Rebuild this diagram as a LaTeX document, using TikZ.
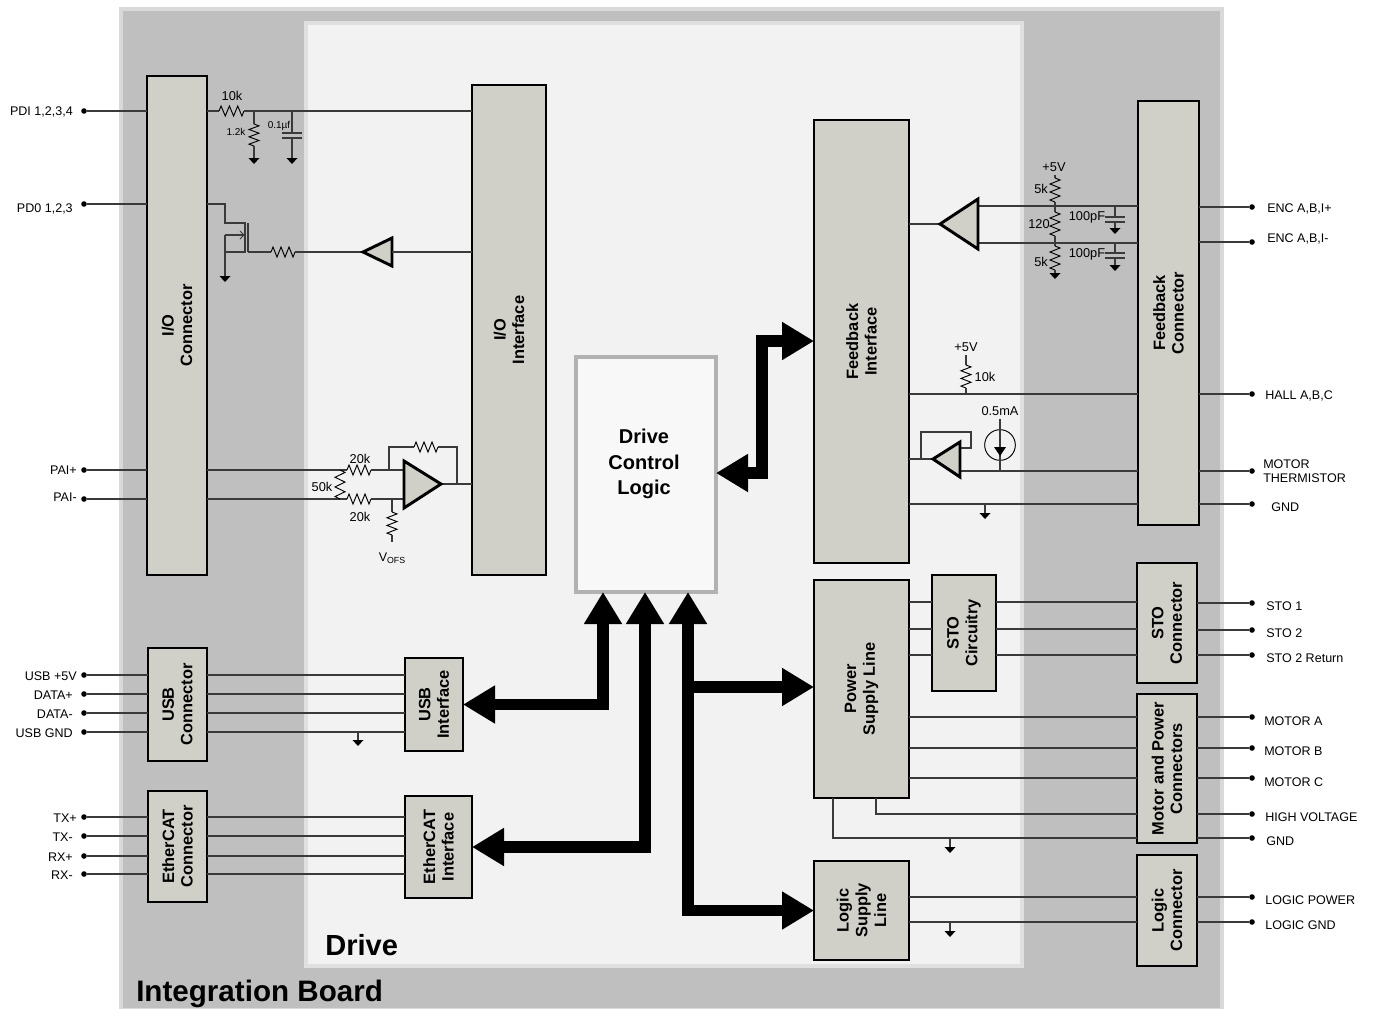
\documentclass[tikz,border=0pt]{standalone}
\usepackage{fontspec}
\setmainfont{Liberation Sans}
\usetikzlibrary{arrows.meta,calc}
\definecolor{boardfill}{HTML}{BFBFBF}
\definecolor{boardedge}{HTML}{D9D9D9}
\definecolor{drivefill}{HTML}{F2F2F2}
\definecolor{driveedge}{HTML}{E0E0E0}
\definecolor{blockfill}{HTML}{D0D0C8}
\definecolor{wirecol}{HTML}{3A3A3A}
\definecolor{logicedge}{HTML}{B2B2B2}
\tikzset{
  x=0.75pt,y=-0.75pt,
  wire/.style={draw=wirecol,line width=0.9pt},
  zig/.style={draw=black,line width=0.7pt,line join=miter},
  blockbox/.style={draw=black,line width=2.2pt,fill=blockfill,inner sep=0pt,outer sep=0pt},
  blocktext/.style={rotate=90,align=center,font=\bfseries\fontsize{12.3}{14}\selectfont,inner sep=0pt},
  lab/.style={font=\fontsize{9.4}{10.4}\selectfont,inner sep=0pt},
  small/.style={font=\fontsize{9.6}{11}\selectfont,inner sep=0pt},
  tiny/.style={font=\fontsize{7.5}{9}\selectfont,inner sep=0pt},
  term/.style={circle,fill=black,inner sep=0pt,minimum size=4.2pt},
  amp/.style={draw=black,line width=2.2pt,fill=blockfill,line join=miter},
  bigarrow/.style={draw=black,line width=8.6pt,line join=miter},
  bigtip/.style={-{Triangle[length=24pt,width=27pt]}},
  bigtips/.style={{Triangle[length=24pt,width=27pt]}-{Triangle[length=24pt,width=27pt]}},
}
% name x1 y1 x2 y2 text
\newcommand{\blk}[6]{%
  \pgfmathsetmacro{\bw}{(#4-#2)*0.75}\pgfmathsetmacro{\bh}{(#5-#3)*0.75}%
  \node[blockbox,minimum width=\bw pt,minimum height=\bh pt] (#1) at ({(#2+#4)/2},{(#3+#5)/2}) {};
  \node[blocktext] (#1-t) at (#1.center) {#6};}
% horizontal resistor: x1 x2 y ; vertical resistor: x y1 y2
\newcommand{\hres}[3]{\pgfmathsetmacro{\st}{(#2-#1)/6}%
  \draw[zig] (#1,#3) -- ++(0.5*\st,-5) -- ++(\st,10) -- ++(\st,-10) -- ++(\st,10) -- ++(\st,-10) -- ++(\st,10) -- (#2,#3);}
\newcommand{\vres}[3]{\pgfmathsetmacro{\st}{(#3-#2)/6}%
  \draw[zig] (#1,#2) -- ++(5,0.5*\st) -- ++(-10,\st) -- ++(10,\st) -- ++(-10,\st) -- ++(10,\st) -- ++(-10,\st) -- (#1,#3);}
% ground: x y1 y2 (line from y1 to y2, triangle below y2)
\newcommand{\gnd}[3]{\draw[wire] (#1,#2) -- (#1,#3);
  \fill[black] (#1-5.5,#3) -- (#1+5.5,#3) -- (#1,#3+6) -- cycle;}
\newcommand{\capv}[4]{% x y1 platetop ygnd
  \draw[wire] (#1,#2) -- (#1,#3);
  \draw[wire] (#1-10,#3) -- (#1+10,#3);
  \draw[wire] (#1-10,#3+5) -- (#1+10,#3+5);
  \gnd{#1}{#3+5}{#4}}
\begin{document}
\begin{tikzpicture}
\useasboundingbox (0,0) rectangle (1378,1008);
\fill[white] (0,0) rectangle (1378,1008);
\draw[draw=boardedge,line width=3pt,fill=boardfill] (121,9) rectangle (1222,1010);
\draw[draw=driveedge,line width=3.2pt,fill=drivefill] (306,23) rectangle (1022,966);
\node[inner sep=0pt,anchor=base west,font=\bfseries\fontsize{22.2}{24}\selectfont] (boardlab) at (136,1001) {Integration Board};
\node[inner sep=0pt,anchor=base west,font=\bfseries\fontsize{21.8}{24}\selectfont] (drivelab) at (325,955) {Drive};

% blocks
\blk{ioc}{147}{76}{207}{575}{I/O\\Connector}
\blk{ioi}{472}{85}{546}{575}{I/O\\Interface}
\blk{fbi}{814}{120}{909}{563}{Feedback\\Interface}
\blk{fbc}{1138}{101}{1199}{525}{Feedback\\Connector}
\blk{usbc}{148}{648}{207}{761}{USB\\Connector}
\blk{usbi}{405}{658}{463}{751}{USB\\Interface}
\blk{ethc}{148}{791}{207}{902}{EtherCAT\\Connector}
\blk{ethi}{405}{796}{472}{898}{EtherCAT\\Interface}
\blk{psl}{814}{580}{909}{798}{Power\\Supply Line}
\blk{stoc}{932}{575}{996}{691}{STO\\Circuitry}
\blk{stoh}{1137}{563}{1197}{683}{STO\\Connector}
\blk{mpc}{1137}{694}{1197}{843}{Motor and Power\\Connectors}
\blk{lsl}{814}{861}{909}{960}{Logic\\Supply\\Line}
\blk{lgc}{1137}{855}{1197}{966}{Logic\\Connector}
\node[draw=logicedge,line width=2.6pt,fill=white!50!drivefill,minimum width=105pt,minimum height=176pt,inner sep=0pt,outer sep=0pt] (dcl) at (646,474.5) {};
\node[align=center,inner sep=0pt,font=\bfseries\fontsize{15}{19}\selectfont] (dcl-t) at (644,464) {Drive\\Control\\Logic};

% left terminals
\foreach \n/\y in {pdi/111,pdo/204,paip/470,paim/499}{
  \node[term] (\n) at (84,\y) {};
  \draw[wire] (\n) -- (\n -| ioc.west);
}
\foreach \n/\y in {ua/675,ub/694,uc/713,ud/732}{
  \node[term] (\n) at (84,\y) {};
  \draw[wire] (\n) -- (\n -| usbc.west);
  \draw[wire] (usbc.east |- \n) -- (usbi.west |- \n);
}
\foreach \n/\y in {ea/817,eb/836,ec/856,ed/874}{
  \node[term] (\n) at (84,\y) {};
  \draw[wire] (\n) -- (\n -| ethc.west);
  \draw[wire] (ethc.east |- \n) -- (ethi.west |- \n);
}
\node[lab,anchor=east] (lpdi) at (73,112) {PDI 1,2,3,4};
\node[lab,anchor=east] (lpdo) at (73,209) {PD0 1,2,3};
\node[lab,anchor=east] (lpp) at (77,470) {PAI+};
\node[lab,anchor=east] (lpm) at (77,497) {PAI-};
\node[lab,anchor=east] (lua) at (77,676) {USB +5V};
\node[lab,anchor=east] (lub) at (73,695) {DATA+};
\node[lab,anchor=east] (luc) at (73,714) {DATA-};
\node[lab,anchor=east] (lud) at (73,733) {USB GND};
\node[lab,anchor=east] (lea) at (77,818) {TX+};
\node[lab,anchor=east] (leb) at (73,837) {TX-};
\node[lab,anchor=east] (lec) at (73,857) {RX+};
\node[lab,anchor=east] (led) at (73,875) {RX-};

% PDI network
\draw[wire] (ioc.east |- pdi) -- (219,111);
\hres{219}{244}{111}
\draw[wire] (244,111) -- (ioi.west |- pdi);
\draw[wire] (254,111) -- (254,124);
\vres{254}{124}{146}
\gnd{254}{146}{158}
\capv{292}{111}{133}{158}
\node[small] (l10k) at (232,96) {10k};
\node[tiny] (l12k) at (236,132) {1.2k};
\node[tiny] (l01u) at (279,126) {0.1µf};

% PD0 output stage
\draw[wire] (ioc.east |- pdo) -- (225,204) -- (225,223) -- (245,223) -- (245,252) -- (225,252);
\draw[wire] (248,223) -- (248,252);
\draw[wire] (225,235) -- (245,235);
\draw[wire,line width=0.7pt] (240,231) -- (244,235) -- (240,239);
\gnd{225}{235}{276}
\draw[wire] (248,252) -- (271,252);
\hres{271}{295}{252}
\coordinate (bufout) at (363,252);
\draw[wire] (295,252) -- (bufout);
\node[inner sep=0pt] (pdobuf) at (378,252) {};
\draw[amp] (363,252) -- (392,238) -- (392,266) -- cycle;
\draw[wire] (392,252) -- (ioi.west |- pdobuf);

% PAI amplifier
\draw[wire] (ioc.east |- paip) -- (347,470);
\draw[wire] (ioc.east |- paim) -- (347,499);
\vres{340}{470}{499}
\hres{347}{371}{470}
\hres{347}{371}{499}
\draw[wire] (371,470) -- (404,470);
\draw[wire] (371,499) -- (404,499);
\draw[wire] (389,470) -- (389,447) -- (414,447);
\hres{414}{438}{447}
\draw[wire] (438,447) -- (457,447) -- (457,484);
\node[inner sep=0pt] (opamp) at (420,484) {};
\draw[wire] (441,484) -- (ioi.west |- opamp);
\draw[amp] (404,461) -- (441,484) -- (404,508) -- cycle;
\draw[wire] (392,499) -- (392,512);
\vres{392}{512}{535}
\draw[wire] (392,535) -- (392,542);
\node[small] (l20a) at (360,459) {20k};
\node[small] (l20b) at (360,517) {20k};
\node[small] (l50k) at (322,487) {50k};
\node[lab] (lvofs) at (392,558) {V\raisebox{-0.35ex}{\fontsize{6.6}{7}\selectfont OFS}};

% Encoder inputs
\draw[wire] (fbi.east |- 0,224) -- (940,224);
\draw[wire] (978,206) -- (1138,206);
\draw[wire] (978,243) -- (1138,243);
\draw[amp] (940,224) -- (978,199) -- (978,249) -- cycle;
\node[small] (l5v1) at (1054,167) {+5V};
\draw[wire] (1055,175) -- (1055,178);
\vres{1055}{178}{202}
\draw[wire] (1055,202) -- (1055,212);
\vres{1055}{212}{236}
\draw[wire] (1055,236) -- (1055,246);
\vres{1055}{246}{270}
\gnd{1055}{270}{273}
\capv{1115}{206}{217}{228}
\capv{1115}{243}{253}{265}
\node[small] (l5ka) at (1041,189) {5k};
\node[small] (l120) at (1039,224) {120};
\node[small] (l5kb) at (1041,262) {5k};
\node[small] (lpfa) at (1087,217) {100pF};
\node[small] (lpfb) at (1087,254) {100pF};

% Hall
\draw[wire] (fbi.east |- 0,394) -- (fbc.west |- 0,394);
\node[small] (l5v2) at (966,347) {+5V};
\draw[wire] (966,355) -- (966,365);
\vres{966}{365}{388}
\draw[wire] (966,388) -- (966,394);
\node[small] (l10kb) at (985,377) {10k};

% Thermistor
\draw[wire] (fbi.east |- 0,459) -- (932,459);
\draw[wire] (921,459) -- (921,432) -- (971,432) -- (971,448) -- (960,448);
\draw[wire] (960,471) -- (fbc.west |- 0,471);
\draw[amp] (933,459) -- (960,442) -- (960,477) -- cycle;
\node[draw=black,line width=0.7pt,circle,minimum size=23pt,inner sep=0pt] (isrc) at (1000,445) {};
\draw[wire] (1000,419) -- (isrc.north);
\draw[wire] (isrc.north) -- (isrc.south);
\draw[wire] (isrc.south) -- (1000,471);
\fill[black] (994,447) -- (1006,447) -- (1000,456) -- cycle;
\node[small] (l05) at (1000,411) {0.5mA};
% GND line
\draw[wire] (fbi.east |- 0,504) -- (fbc.west |- 0,504);
\gnd{985}{504}{513}

% right terminals
\foreach \n/\y/\blkname in {rea/207/fbc,reb/242/fbc,rha/394/fbc,rth/471/fbc,rgn/504/fbc,rsa/603/stoh,rsb/630/stoh,rsc/655/stoh,rma/717/mpc,rmb/748/mpc,rmc/778/mpc,rhv/814/mpc,rgd/838/mpc,rlp/897/lgc,rlg/922/lgc}{
  \node[term] (\n) at (1252,\y) {};
  \draw[wire] (\blkname.east |- \n) -- (\n);
}
\node[lab,anchor=west] (tea) at (1267,209) {ENC A,B,I+};
\node[lab,anchor=west] (teb) at (1267,239) {ENC A,B,I-};
\node[lab,anchor=west] (tha) at (1265,396) {HALL A,B,C};
\node[lab,anchor=west,align=left] (tth) at (1263,471) {MOTOR\\THERMISTOR};
\node[lab,anchor=west] (tgn) at (1271,507) {GND};
\node[lab,anchor=west] (tsa) at (1266,606) {STO 1};
\node[lab,anchor=west] (tsb) at (1266,633) {STO 2};
\node[lab,anchor=west] (tsc) at (1266,658) {STO 2 Return};
\node[lab,anchor=west] (tma) at (1264,721) {MOTOR A};
\node[lab,anchor=west] (tmb) at (1264,751) {MOTOR B};
\node[lab,anchor=west] (tmc) at (1264,782) {MOTOR C};
\node[lab,anchor=west] (thv) at (1265,817) {HIGH VOLTAGE};
\node[lab,anchor=west] (tgd) at (1266,841) {GND};
\node[lab,anchor=west] (tlp) at (1265,900) {LOGIC POWER};
\node[lab,anchor=west] (tlg) at (1265,925) {LOGIC GND};

% Power and STO wiring
\foreach \y in {602,629,655}{
  \draw[wire] (psl.east |- 0,\y) -- (stoc.west |- 0,\y);
  \draw[wire] (stoc.east |- 0,\y) -- (stoh.west |- 0,\y);
}
\foreach \y in {717,748,778}{
  \draw[wire] (psl.east |- 0,\y) -- (mpc.west |- 0,\y);
}
\draw[wire] (876,798) -- (876,814) -- (mpc.west |- 0,814);
\draw[wire] (833,798) -- (833,838) -- (mpc.west |- 0,838);
\gnd{950}{838}{847}
\draw[wire] (lsl.east |- 0,897) -- (lgc.west |- 0,897);
\draw[wire] (lsl.east |- 0,922) -- (lgc.west |- 0,922);
\gnd{950}{922}{931}
\gnd{358}{732}{740}

% thick buses
\coordinate (dclA) at (603,592);
\coordinate (dclB) at (645,592);
\coordinate (dclC) at (688,592);
\draw[bigarrow,bigtips] (usbi.east) -| (dclA);
\draw[bigarrow,bigtips] (ethi.east) -| (dclB);
\draw[bigarrow,bigtips] (dcl.east |- 0,473) -- (762,473) -- (762,341) -- (fbi.west |- 0,341);
\draw[bigarrow,bigtips] (dclC) |- (lsl.west);
\draw[bigarrow,bigtip] (688,687) -- (psl.west |- 0,687);
\end{tikzpicture}
\end{document}
